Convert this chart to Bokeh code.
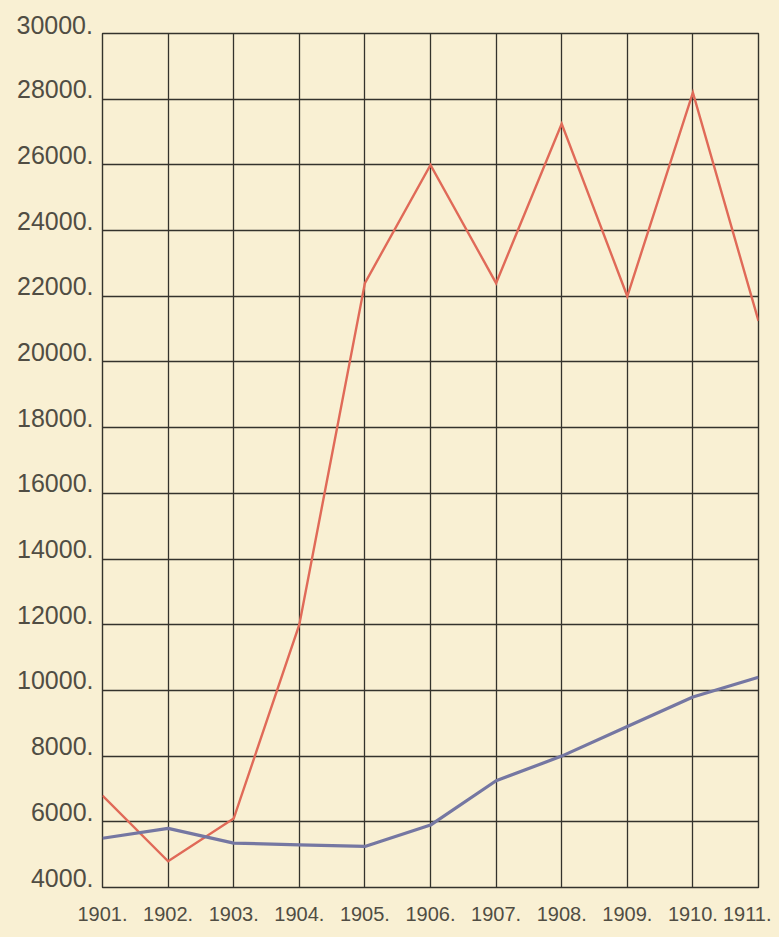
from bokeh.plotting import figure
from bokeh.models import Range1d, FixedTicker, LinearAxis, Title
from bokeh.embed import file_html
from bokeh.resources import INLINE

years = [1901, 1902, 1903, 1904, 1905, 1906, 1907, 1908, 1909, 1910, 1911]
red_series = [6800, 4800, 6100, 12000, 22400, 26000, 22400, 27250, 22000, 28200, 21250]
blue_series = [5500, 5800, 5350, 5300, 5250, 5900, 7250, 8000, 8900, 9800, 10400]
year_labels = ["1901.", "1902.", "1903.", "1904.", "1905.", "1906.", "1907.", "1908.", "1909.", "1910.", "1911."]
y_ticks = [4000, 6000, 8000, 10000, 12000, 14000, 16000, 18000, 20000, 22000, 24000, 26000, 28000, 30000]
y_labels = ["4000.", "6000.", "8000.", "10000.", "12000.", "14000.", "16000.", "18000.",
            "20000.", "22000.", "24000.", "26000.", "28000.", "30000."]

BG = "#f9f0d3"
GRID = "#34332c"
TXT = "#504d43"
FONT = "Liberation Sans"

Y0, Y1 = 4000, 30000
FRAME_H = 854
LABEL_RAISE_PX = 10  # y labels sit just above their grid lines
shift = int(round(LABEL_RAISE_PX * (Y1 - Y0) / FRAME_H))

p = figure(width=771, height=929, frame_width=656, frame_height=FRAME_H,
           output_backend="svg", toolbar_location=None,
           x_range=Range1d(1901, 1911), y_range=Range1d(Y0, Y1),
           min_border_left=102, min_border_top=33, min_border_right=13, min_border_bottom=42,
           background_fill_color=BG, border_fill_color=BG,
           outline_line_color=GRID, outline_line_width=1.4)

p.yaxis.visible = False
p.extra_y_ranges = {"labels": Range1d(Y0 - shift, Y1 - shift)}
yax = LinearAxis(y_range_name="labels", ticker=FixedTicker(ticks=y_ticks[:-1]))
yax.major_label_overrides = {v: lab for v, lab in zip(y_ticks, y_labels)}
p.add_layout(yax, "left")

# the top value label lies above the frame, where the shifted axis cannot reach
top_label = Title(text=y_labels[-1], align="left", offset=-86, vertical_align="bottom", standoff=0,
                  text_font=FONT, text_font_size="25px", text_font_style="normal", text_color=TXT)
p.add_layout(top_label, "above")

p.xaxis.ticker = FixedTicker(ticks=years)
p.xaxis.major_label_overrides = {yr: lab for yr, lab in zip(years, year_labels)}

for ax in (p.xaxis[0], yax):
    ax.axis_line_color = None
    ax.major_tick_line_color = None
    ax.minor_tick_line_color = None
    ax.major_tick_out = 0
    ax.major_tick_in = 0
    ax.major_label_text_font = FONT
    ax.major_label_text_color = TXT
yax.major_label_text_font_size = "25px"
yax.major_label_standoff = 9
p.xaxis.major_label_text_font_size = "20px"
p.xaxis.major_label_standoff = 19

p.xgrid.ticker = FixedTicker(ticks=years)
p.ygrid.ticker = FixedTicker(ticks=y_ticks)
for g in (p.xgrid, p.ygrid):
    g.grid_line_color = GRID
    g.grid_line_width = 1.3
    g.grid_line_alpha = 1.0

p.line(years, red_series, line_color="#e06a58", line_width=2.4, line_join="miter")
p.line(years, blue_series, line_color="#7577a2", line_width=3.2, line_join="round")

html = file_html(p, INLINE)
html = html.replace("</head>", "<style>html, body { background-color: %s; }</style></head>" % BG, 1)
open("out.html", "w").write(html)
